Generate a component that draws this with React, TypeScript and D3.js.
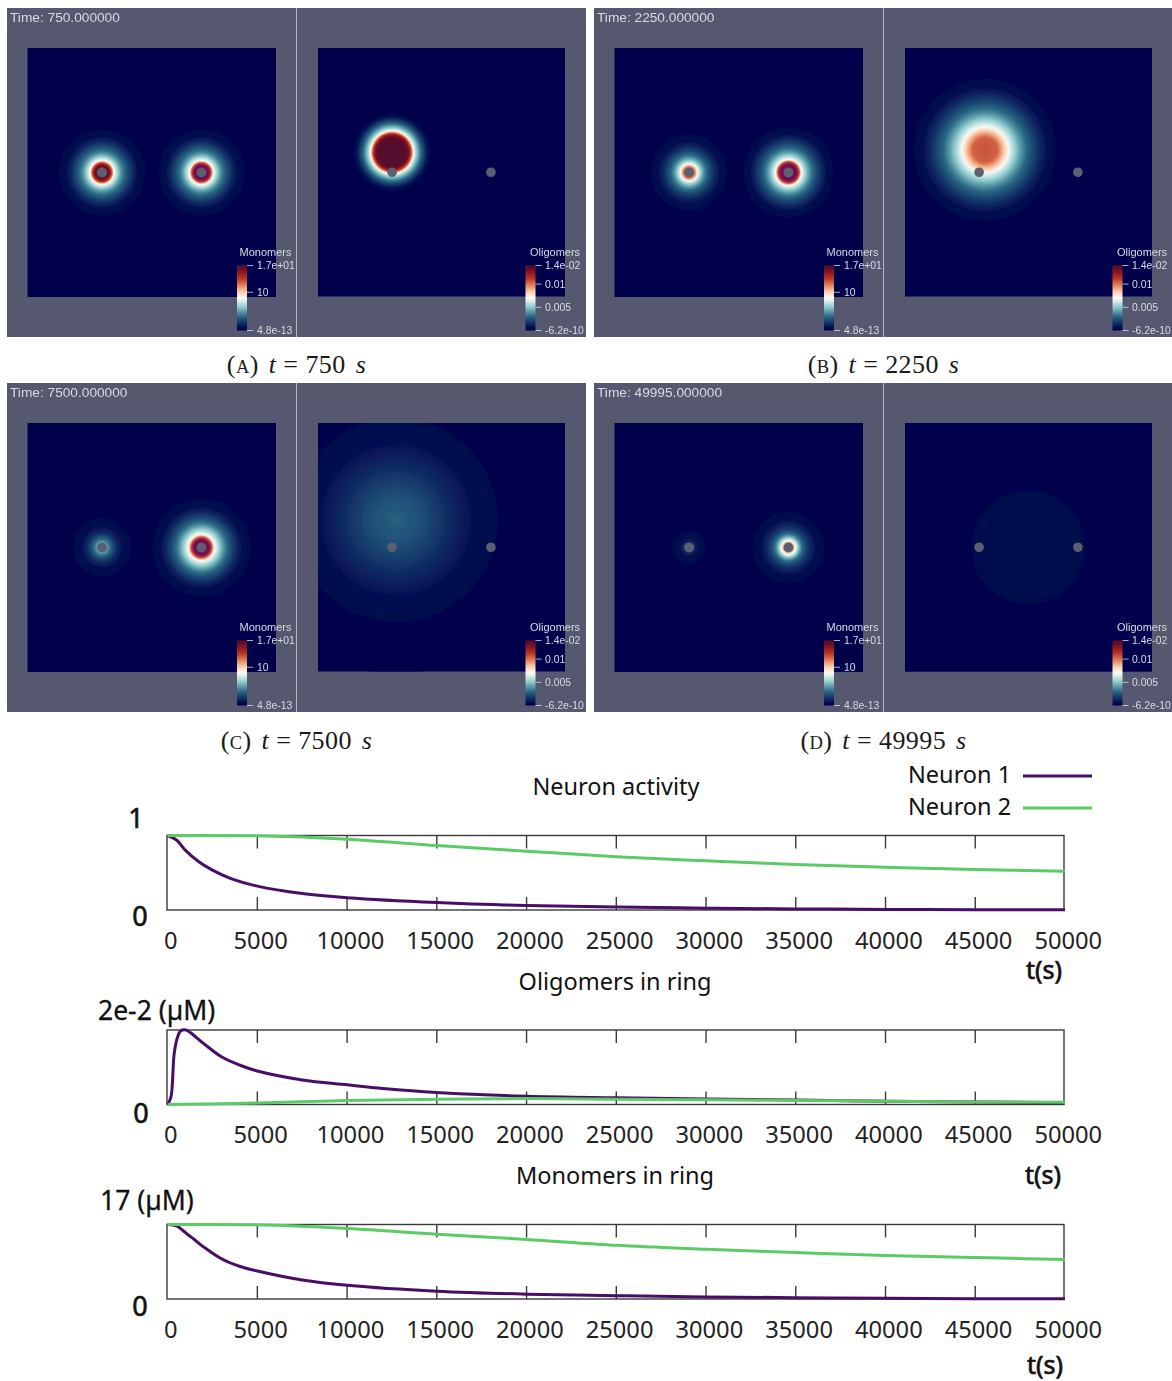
import React from "react";
import * as d3 from "d3";

type Stop = [number, number];

// ---------- simulation snapshots ----------
const panelTimes = ["750.000000", "2250.000000", "7500.000000", "49995.000000"];
const captionLetters = ["A", "B", "C", "D"];
const captionTimes = ["750", "2250", "7500", "49995"];

// radial profiles: [radius in domain units, colour value 0..1]
const monoA1: Stop[] = [[0, .95], [2, .95], [3, .92], [4, .75], [4.8, .5], [6, .4], [7.3, .3], [8.5, .24], [10, .18], [12, .11], [14, .06], [16, .03], [19, .01], [22, 0]];
const monoA2: Stop[] = [[0, .95], [2, .95], [3, .92], [4, .75], [4.8, .5], [6, .4], [7.3, .3], [8.5, .24], [10, .18], [12, .11], [14, .06], [16, .03], [19, .01], [22, 0]];
const monoB1: Stop[] = [[0, .72], [2, .72], [2.7, .66], [3.4, .5], [4.4, .4], [5.6, .3], [7, .22], [9, .14], [11, .08], [13.5, .04], [16, .015], [20, 0]];
const monoB2: Stop[] = [[0, .95], [2, .95], [3.3, .92], [4.4, .75], [5.2, .5], [6.5, .4], [8, .3], [9.5, .23], [11, .17], [13, .11], [15, .06], [17, .03], [20, .01], [24, 0]];
const monoC1: Stop[] = [[0, .3], [2, .3], [3, .24], [4.5, .16], [6, .1], [8.5, .05], [12, .02], [16, 0]];
const monoC2: Stop[] = [[0, .95], [2, .95], [3.2, .92], [4.2, .75], [5.3, .5], [6.8, .4], [8.5, .3], [10, .23], [12, .16], [14, .1], [16, .06], [19, .025], [22, .008], [26, 0]];
const monoD1: Stop[] = [[0, .1], [2, .1], [3, .07], [5, .035], [8, .012], [12, 0]];
const monoD2: Stop[] = [[0, .62], [2, .62], [2.6, .56], [3.2, .45], [4.2, .33], [5.5, .22], [7.5, .13], [10, .07], [13, .03], [16, .012], [20, 0]];
const oligoA: Stop[] = [[0, 1], [6, .98], [7, .9], [8, .72], [8.7, .5], [9.5, .4], [11, .27], [12.5, .16], [14, .07], [16, 0]];
const oligoB: Stop[] = [[0, .76], [5, .74], [7.7, .6], [9, .53], [10, .46], [11.3, .41], [14, .3], [17.4, .2], [22, .1], [27, .03], [32, 0]];
const oligoC: Stop[] = [[0, .2], [10, .17], [20, .11], [30, .06], [42, .02], [52, 0]];
const oligoD: Stop[] = [[0, .03], [12, .028], [13, .024], [40, .02], [90, .02]];

const monoProfiles = [[monoA1, monoA2], [monoB1, monoB2], [monoC1, monoC2], [monoD1, monoD2]];
const oligoProfiles = [oligoA, oligoB, oligoC, oligoD];
const oligoCentersX = [30, 32.4, 31.6, 50];
const oligoCentersY = [42, 41, 39, 50];
const neuronX = [30, 70];
const neuronY = 50;

const heatDomain = [0, .05, .1, .22, .35, .45, .5, .58, .68, .8, .92, 1];
const heatColors = ["#02024b", "#040c50", "#0e2a62", "#2b6a85", "#84c4c8", "#d5eeec", "#fdf8f2", "#fbd9bf", "#e88e63", "#b93527", "#7b0f20", "#50102e"];

const monoBarLabels: [number, string][] = [[17, "1.7e+01"], [10, "10"], [0, "4.8e-13"]];
const oligoBarLabels: [number, string][] = [[.014, "1.4e-02"], [.01, "0.01"], [.005, "0.005"], [0, "-6.2e-10"]];

// ---------- time series ----------
const tN1 = [0, 500, 1000, 1700, 2500, 3500, 5000, 7500, 10000, 15000, 20000, 25000, 30000, 35000, 40000, 45000, 50000];
const activity1 = [1, .94, .8, .655, .535, .425, .32, .22, .165, .1, .06, .04, .025, .015, .008, .004, .002];
const tN2 = [0, 5000, 10000, 15000, 20000, 25000, 30000, 35000, 40000, 45000, 50000];
const activity2 = [1, .995, .95, .865, .79, .715, .66, .61, .575, .545, .52];
const tO1 = [0, 185, 370, 560, 740, 1020, 1300, 2000, 3000, 4000, 5000, 7500, 10000, 12000, 15000, 20000, 25000, 30000, 35000, 40000, 45000, 50000];
const oligo1 = [0, .1, .69, .91, .99, 1, .96, .82, .64, .53, .45, .33, .265, .215, .16, .11, .09, .075, .06, .045, .035, .025];
const oligo2 = [0, .02, .055, .07, .08, .07, .065, .055, .045, .035, .03];
const tM1 = [0, 500, 1000, 1500, 2000, 3000, 4000, 5000, 7500, 10000, 15000, 20000, 25000, 30000, 35000, 40000, 45000, 50000];
const mono1 = [1, .98, .89, .795, .7, .54, .44, .375, .255, .185, .105, .065, .045, .028, .018, .01, .005, .002];
const mono2 = [1, .995, .945, .87, .8, .72, .668, .623, .583, .556, .53];

const xTicks = d3.range(0, 50001, 5000);
const legendNames = ["Neuron 1", "Neuron 2"];
const PURPLE = "#4a0f68";
const GREEN = "#5ccb66";
const PANEL = "#55586e";
const DOT = "#5c5f72";
const TXT = "#d8dae2";
const SANS = "'Liberation Sans', sans-serif";
const CHART = "'Noto Sans', sans-serif";
const SERIF = "'Liberation Serif', serif";

const heat = d3.scaleLinear<string>().domain(heatDomain).range(heatColors).interpolate(d3.interpolateRgb);

function Blob({ id, cx, cy, profile, sx, sy, clip }: any) {
  const rMax = profile[profile.length - 1][0];
  const rOuter = rMax * 1.2;
  const r = sx(rOuter) - sx(0);
  const pv = d3.scaleLinear().domain(profile.map((p: Stop) => p[0])).range(profile.map((p: Stop) => p[1])).clamp(true);
  const samples = d3.range(0, 121).map((i) => (i / 120) * rOuter);
  // averaging window widens with radius, so the outer halo has no visible edge
  const smooth = (q: number) => {
    const w = 0.1 * q * (q / rMax) + 0.1;
    return d3.mean(d3.range(-4, 5), (k) => pv(q + (k / 4) * w)) as number;
  };
  return (
    <g clipPath={`url(#${clip})`}>
      <defs>
        <radialGradient id={id}>
          {samples.map((q, i) => (
            <stop key={i} offset={q / rOuter} stopColor={heat(smooth(q))} />
          ))}
        </radialGradient>
      </defs>
      <circle cx={sx(cx)} cy={sy(cy)} r={r} fill={`url(#${id})`} />
    </g>
  );
}

function ColorBar({ id, x, top, bottom, title, titleX, labelX, labels, maxV }: any) {
  const y = d3.scaleLinear().domain([0, maxV]).range([bottom, top]);
  const stops = d3.range(0, 1.0001, .05);
  return (
    <g fontFamily={SANS} fill={TXT}>
      <defs>
        <linearGradient id={id} x1="0" y1="1" x2="0" y2="0">
          {stops.map((s) => <stop key={s} offset={s} stopColor={heat(s)} />)}
        </linearGradient>
      </defs>
      <text x={titleX} y={top - 9.5} fontSize={11}>{title}</text>
      <rect x={x} y={top} width={10} height={bottom - top} fill={`url(#${id})`} />
      {labels.map(([v, s]: [number, string]) => (
        <g key={s}>
          <line x1={x + 10} x2={x + 16} y1={y(v)} y2={y(v)} stroke={TXT} strokeWidth={0.8} />
          <text x={labelX} y={y(v) + 3.7} fontSize={10.4}>{s}</text>
        </g>
      ))}
    </g>
  );
}

function Panel({ index, ox, oy }: { index: number; ox: number; oy: number }) {
  const sxL = d3.scaleLinear().domain([0, 100]).range([ox + 20.5, ox + 269]);
  const sxR = d3.scaleLinear().domain([0, 100]).range([ox + 311, ox + 558]);
  const sy = d3.scaleLinear().domain([0, 100]).range([oy + 40, oy + 289]);
  const syR = d3.scaleLinear().domain([0, 100]).range([oy + 40, oy + 288.5]);
  const [m1, m2] = monoProfiles[index];
  const clipL = `clipL-${index}`;
  const clipR = `clipR-${index}`;
  return (
    <g filter="url(#soft)">
      <defs>
        <clipPath id={clipL}><rect x={sxL(0)} y={sy(0)} width={sxL(100) - sxL(0)} height={sy(100) - sy(0)} /></clipPath>
        <clipPath id={clipR}><rect x={sxR(0)} y={syR(0)} width={sxR(100) - sxR(0)} height={syR(100) - syR(0)} /></clipPath>
      </defs>
      <rect x={ox} y={oy} width={579} height={329} fill={PANEL} />
      <line x1={ox + 289.5} x2={ox + 289.5} y1={oy} y2={oy + 329} stroke="#b4b6c2" strokeWidth={1} />
      <rect x={sxL(0)} y={sy(0)} width={sxL(100) - sxL(0)} height={sy(100) - sy(0)} fill={heat(0)} />
      <rect x={sxR(0)} y={syR(0)} width={sxR(100) - sxR(0)} height={syR(100) - syR(0)} fill={heat(0)} />
      <Blob id={`m1-${index}`} clip={clipL} cx={neuronX[0]} cy={neuronY} profile={m1} sx={sxL} sy={sy} />
      <g style={{ mixBlendMode: "lighten" }}>
        <Blob id={`m2-${index}`} clip={clipL} cx={neuronX[1]} cy={neuronY} profile={m2} sx={sxL} sy={sy} />
      </g>
      <Blob id={`o-${index}`} clip={clipR} cx={oligoCentersX[index]} cy={oligoCentersY[index]} profile={oligoProfiles[index]} sx={sxR} sy={syR} />
      {neuronX.map((n) => <circle key={n} cx={sxL(n)} cy={sy(neuronY)} r={5} fill={DOT} />)}
      {neuronX.map((n) => <circle key={n} cx={sxR(n)} cy={syR(neuronY)} r={4.8} fill={DOT} />)}
      <text x={ox + 3} y={oy + 13.5} fontSize={13.7} fontFamily={SANS} fill={TXT}>{`Time: ${panelTimes[index]}`}</text>
      <ColorBar id={`cbm-${index}`} x={ox + 230} top={oy + 257.5} bottom={oy + 322.5} title="Monomers" titleX={ox + 232.5} labelX={ox + 250} labels={monoBarLabels} maxV={17} />
      <ColorBar id={`cbo-${index}`} x={ox + 518.5} top={oy + 257.5} bottom={oy + 322.5} title="Oligomers" titleX={ox + 523} labelX={ox + 538} labels={oligoBarLabels} maxV={.014} />
    </g>
  );
}

function Caption({ cx, y, index }: { cx: number; y: number; index: number }) {
  return (
    <text x={cx} y={y} textAnchor="middle" fontFamily={SERIF} fontSize={26} fill="#1a1a1a" letterSpacing={0.4}>
      (<tspan fontSize={18.5}>{captionLetters[index]}</tspan>)
      <tspan dx={10} fontStyle="italic">t</tspan>
      <tspan dx={7}>=</tspan>
      <tspan dx={7}>{captionTimes[index]}</tspan>
      <tspan dx={10} fontStyle="italic">s</tspan>
    </text>
  );
}

function Plot({ top, bottom, series }: { top: number; bottom: number; series: { t: number[]; v: number[]; c: string }[] }) {
  const x = d3.scaleLinear().domain([0, 50000]).range([167.6, 1065]);
  const y = d3.scaleLinear().domain([0, 1]).range([bottom, top]);
  const line = (t: number[], v: number[]) =>
    d3.line<number>().x((d) => x(d)).y((_, i) => y(v[i])).curve(d3.curveCatmullRom.alpha(0.5))(t) as string;
  return (
    <g>
      <rect x={167} y={top} width={897} height={bottom - top} fill="none" stroke="#3a3a3a" strokeWidth={1.4} />
      {xTicks.slice(1, -1).map((t) => (
        <g key={t} stroke="#3a3a3a" strokeWidth={1.4}>
          <line x1={x(t)} x2={x(t)} y1={top} y2={top + 13} />
          <line x1={x(t)} x2={x(t)} y1={bottom} y2={bottom - 13} />
        </g>
      ))}
      {series.map((s, i) => (
        <path key={i} d={line(s.t, s.v)} fill="none" stroke={s.c} strokeWidth={3} filter="url(#softer)" />
      ))}
      {xTicks.map((t) => (
        <text key={t} x={x(t) + 3.3} y={bottom + 38.5} textAnchor="middle" fontFamily={CHART} fontSize={23.7} fill="#222">{t}</text>
      ))}
    </g>
  );
}

function Label({ x, y, s, size = 23.5, anchor = "start", bold = 0 }: any) {
  return <text x={x} y={y} fontFamily={CHART} fontSize={size} textAnchor={anchor} fill="#111" stroke="#111" strokeWidth={bold}>{s}</text>;
}

export default function App() {
  return (
    <svg width={1172} height={1381} viewBox="0 0 1172 1381" style={{ position: "absolute", left: 0, top: 0, background: "#fff" }}>
      <defs>
        <filter id="soft" x="-2%" y="-2%" width="104%" height="104%"><feGaussianBlur stdDeviation="0.45" /></filter>
        <filter id="softer" filterUnits="userSpaceOnUse" x="0" y="0" width="1172" height="1381"><feGaussianBlur stdDeviation="0.4" /></filter>
      </defs>
      <Panel index={0} ox={7} oy={8} />
      <Panel index={1} ox={594} oy={8} />
      <Panel index={2} ox={7} oy={383} />
      <Panel index={3} ox={594} oy={383} />
      <Caption cx={296.5} y={373} index={0} />
      <Caption cx={883.5} y={373} index={1} />
      <Caption cx={296.5} y={749} index={2} />
      <Caption cx={883.5} y={749} index={3} />

      <Plot top={835.5} bottom={910} series={[{ t: tN1, v: activity1, c: PURPLE }, { t: tN2, v: activity2, c: GREEN }]} />
      <Plot top={1030} bottom={1104.5} series={[{ t: tO1, v: oligo1, c: PURPLE }, { t: tN2, v: oligo2, c: GREEN }]} />
      <Plot top={1224.5} bottom={1299} series={[{ t: tM1, v: mono1, c: PURPLE }, { t: tN2, v: mono2, c: GREEN }]} />

      <Label x={616} y={795} s="Neuron activity" anchor="middle" />
      <Label x={615} y={990} s="Oligomers in ring" anchor="middle" />
      <Label x={615} y={1184} s="Monomers in ring" anchor="middle" />
      <Label x={136} y={828} s="1" size={27} anchor="middle" bold={0.6} />
      <Label x={140} y={926} s="0" size={27} anchor="middle" bold={0.6} />
      <Label x={98} y={1020} s="2e-2 (µM)" size={26.5} bold={0.3} />
      <Label x={141} y={1123} s="0" size={27} anchor="middle" bold={0.6} />
      <Label x={100} y={1210} s="17 (µM)" size={26.5} bold={0.3} />
      <Label x={140} y={1316} s="0" size={27} anchor="middle" bold={0.6} />
      <Label x={1044} y={979} s="t(s)" size={25} anchor="middle" bold={0.7} />
      <Label x={1043} y={1184} s="t(s)" size={25} anchor="middle" bold={0.7} />
      <Label x={1045} y={1374} s="t(s)" size={25} anchor="middle" bold={0.7} />

      {legendNames.map((n, i) => (
        <g key={n}>
          <Label x={908} y={783 + i * 32} s={n} size={23.5} />
          <line x1={1023} x2={1092} y1={776 + i * 32} y2={776 + i * 32} stroke={i === 0 ? PURPLE : GREEN} strokeWidth={3} filter="url(#softer)" />
        </g>
      ))}
    </svg>
  );
}
